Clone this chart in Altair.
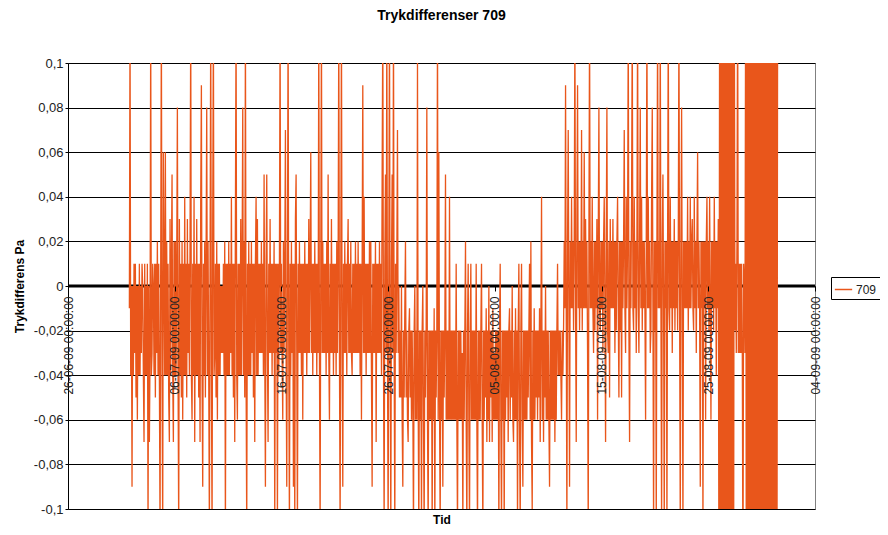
import altair as alt
import pandas as pd

TITLE = "Trykdifferenser 709"
Y_TITLE = "Trykdifferens Pa"
X_TITLE = "Tid"
SERIES_NAME = "709"

# x-axis tick dates (year, month, day) and y-axis tick values
X_TICK_DATES = [(2009, 6, 26), (2009, 7, 6), (2009, 7, 16), (2009, 7, 26),
                (2009, 8, 5), (2009, 8, 15), (2009, 8, 25), (2009, 9, 4)]
Y_TICKS = [-0.1, -0.08, -0.06, -0.04, -0.02, 0, 0.02, 0.04, 0.06, 0.08, 0.1]
ZERO = [0]

# pressure difference readings in hundredths of Pa, one every 90 minutes,
# starting 01-07-09 18:00 (values beyond +/-0.1 run off the plot)
JUL_01 = [-1, 12, -4, 0]
JUL_02 = [-9, 0, -4, 1, -3, 1, -5, 0, -6, 0, -4, 1, -4, 0, -3, 1]
JUL_03 = [0, -4, -7, 1, -4, 0, -4, 1, -11, 0, -7, -3, 12, -4, -3, 1]
JUL_04 = [0, -4, 1, -5, 1, -3, 2, -4, 1, -4, -11, 1, 12, -4, -11, 6]
JUL_05 = [1, -4, 6, -4, 2, -4, 1, -5, -7, 3, -4, 1, 5, -4, -7, 2]
JUL_06 = [-4, 2, -4, 1, 8, -4, -11, 3, -4, 1, -5, 2, -6, 1, -4, 4]
JUL_07 = [-4, 1, -5, 3, -3, 1, -4, 2, 12, -4, -6, 1, -4, 4, -7, 1]
JUL_08 = [-4, 3, -4, 1, -5, 1, -7, 4, 9, -4, -9, 1, -4, 2, -5, 1]
JUL_09 = [8, -4, 2, -4, -11, 1, 12, -4, -11, 3, 12, -4, -3, 1, -5, 2]
JUL_10 = [-6, 1, -4, 1, -4, 0, -3, 0, -3, 1, -4, 2, -11, 1, -4, 1]
JUL_11 = [-4, 2, -4, 1, -3, 4, -4, 1, -5, 1, -7, 3, 12, -4, -6, 1]
JUL_12 = [-4, 1, -4, 3, -4, 1, 8, -4, 2, -5, 12, -4, -11, 1, -4, 2]
JUL_13 = [-4, 1, -4, 2, -3, 1, -5, 1, -7, 1, 4, -4, 3, -4, 1, -3]
JUL_14 = [1, -3, 2, -3, 1, -4, 5, -3, -9, 1, 5, -3, -7, 1, -3, 3]
JUL_15 = [-3, 1, -4, 1, -3, 2, -11, 1, -3, 1, -11, 1, -4, 1, 12, -3]
JUL_16 = [1, -3, -6, 2, -3, 1, 7, -3, -9, 1, 12, -3, -11, 1, -4, 2]
JUL_17 = [-3, 1, -9, 1, -11, 3, 5, -3, -11, 1, -3, 2, -3, 1, -4, 1]
JUL_18 = [-6, 1, -3, 2, -3, 1, -4, 1, -3, 3, -3, 1, 6, -3, 1, -4]
JUL_19 = [1, -3, 2, -3, 1, -4, 1, -3, 12, -3, -11, 1, 12, -3, 2, -3]
JUL_20 = [1, -3, 1, -4, 2, -3, 5, -3, -6, 1, -3, 3, -3, 1, -4, 1]
JUL_21 = [-3, 1, -4, 2, -3, 1, 12, -3, -11, 1, 12, -3, -9, 1, -3, 2]
JUL_22 = [-3, 1, -4, 1, 3, -3, 1, -3, 2, -3, -4, 1, -3, 1, -3, 2]
JUL_23 = [-3, 1, -3, 2, -3, 1, -4, 1, -6, 1, 9, -3, 4, -3, 1, -4]
JUL_24 = [1, -3, 1, -3, 2, -3, 2, -4, -9, 1, -3, 1, -3, 2, -7, 1]
JUL_25 = [-3, 1, -3, 2, -3, 1, -4, 5, 12, -3, -11, 1, 5, -3, 12, -3]
JUL_26 = [-11, 1, 12, -3, -11, 1, 5, -3, 12, -3, -11, 1, -3, 1, 7, -3]
JUL_27 = [0, -5, -2, -5, 0, -6, -9, -2, -5, -1, 2, -5, -2, -6, -7, -2]
JUL_28 = [-1, -5, -2, -6, -2, -5, -11, -2, 0, -6, -2, -6, 10, -5, -11, -2]
JUL_29 = [-6, -2, -11, -2, 0, -6, -11, -2, -5, -2, 8, -6, -11, -2, -6, -2]
JUL_30 = [-6, -2, -11, -2, -6, -1, -11, -2, -5, -2, 12, -6, 6, -5, -11, -2]
JUL_31 = [-6, -2, -9, -2, -5, -2, 5, -6, -2, -6, -2, -6, 4, -6, -2, -6]
AUG_01 = [-2, -6, -2, -6, -2, -6, 1, -6, -11, -2, -6, -2, -6, -2, -6, -3]
AUG_02 = [-11, -2, -6, -2, 2, -6, -11, -2, 1, -6, -11, -2, 1, -6, -2, -6]
AUG_03 = [-2, -6, -2, -6, 1, -6, -11, -2, -6, -2, -6, -2, 1, -6, -11, -2]
AUG_04 = [-6, -2, -5, -1, -7, -2, -6, 0, -7, -2, -5, -2, -7, -1, -6, -3]
AUG_05 = [-6, -2, -6, -2, -6, -2, -11, -2, 1, -6, -11, -2, -6, -2, -11, -2]
AUG_06 = [-6, -2, -5, -2, -7, -2, -1, -6, -2, -5, 0, -6, -7, -2, -6, -1]
AUG_07 = [-6, -2, -11, -2, 1, -6, -11, -2, 1, -6, -9, -2, -6, -2, -6, -2]
AUG_08 = [-6, -2, -5, -2, 1, -6, 2, -7, -10, -2, -6, -1, -6, -2, -5, -2]
AUG_09 = [-6, -2, -5, -1, -7, -2, 4, -6, -2, -7, -2, -5, 0, -6, -2, -6]
AUG_10 = [-2, -6, -9, -2, -6, -2, -6, -2, -6, -2, -7, -2, -6, -2, 1, -4]
AUG_11 = [-2, -4, -2, -4, -6, -2, -4, -2, 2, -1, 9, -1, -11, 2, 7, -1]
AUG_12 = [-9, 2, -1, 4, -1, 2, -2, 2, 12, -1, -7, 3, 9, -1, 2, -2]
AUG_13 = [2, -1, 7, -2, 2, -1, 6, -1, 3, -1, 2, -3, -11, 2, 12, -1]
AUG_14 = [2, -1, 4, -1, -3, 2, -2, 2, -1, 3, -6, 2, 8, -1, -2, 2]
AUG_15 = [-1, 2, -3, 2, 4, -1, -7, 2, 8, -2, -3, 2, -5, 3, -1, 2]
AUG_16 = [-1, 3, -1, 2, -3, 2, -2, 2, 4, -1, -5, 2, -2, 2, -5, 2]
AUG_17 = [-1, 2, 7, -1, -3, 4, -1, 2, 12, -2, -7, 2, -1, 4, 12, -1]
AUG_18 = [-2, 4, -1, 2, -3, 2, 12, -1, -3, 2, 8, -1, 4, -2, 2, -1]
AUG_19 = [2, -1, -6, 2, 12, -1, 4, -1, 2, -3, -2, 4, 8, -1, -11, 2]
AUG_20 = [-2, 2, -11, 2, 12, -1, 2, -1, 12, -1, -11, 2, 5, -1, -11, 2]
AUG_21 = [-1, 2, -11, 2, 12, -1, -2, 4, -1, 2, -3, 2, -1, 3, -2, 2]
AUG_22 = [-1, 2, -2, 2, 12, -1, -11, 2, 8, -1, -11, 2, -1, 2, -1, 2]
AUG_23 = [-1, 4, -2, 2, -1, 4, -1, 2, 3, -1, -2, 4, -1, 2, -3, 2]
AUG_24 = [6, -1, 2, -1, -9, 2, -1, 2, -11, 2, -1, 2, -6, 2, 4, -1]
AUG_25 = [2, -2, 4, -1, -6, 2, -1, 2, -2, 4, -1, 2, -4, 2, -1, 3]
AUG_26 = [-14, 14, -14, 14, -14, 14, -14, 14, -14, 14, -14, 14, -14, 14, -14, 14]
AUG_27 = [-14, 14, -14, 14, -14, 14, -14, 14, -2, 1, -3, 2, 14, -3, 1, -3]
AUG_28 = [1, -3, 1, -3, -14, 1, 0, -3, 14, -14, 14, -14, 14, -14, 14, -14]
AUG_29 = [14, -14, 14, -14, 14, -14, 14, -14, 14, -14, 14, -14, 14, -14, 14, -14]
AUG_30 = [14, -14, 14, -14, 14, -14, 14, -14, 14, -14, 14, -14, 14, -14, 14, -14]
AUG_31 = [14, -14, 14, -14, 14, -14, 14, -14, 14]

DAYS = [JUL_01, JUL_02, JUL_03, JUL_04, JUL_05, JUL_06, JUL_07, JUL_08, JUL_09, JUL_10,
        JUL_11, JUL_12, JUL_13, JUL_14, JUL_15, JUL_16, JUL_17, JUL_18, JUL_19, JUL_20,
        JUL_21, JUL_22, JUL_23, JUL_24, JUL_25, JUL_26, JUL_27, JUL_28, JUL_29, JUL_30,
        JUL_31, AUG_01, AUG_02, AUG_03, AUG_04, AUG_05, AUG_06, AUG_07, AUG_08, AUG_09,
        AUG_10, AUG_11, AUG_12, AUG_13, AUG_14, AUG_15, AUG_16, AUG_17, AUG_18, AUG_19,
        AUG_20, AUG_21, AUG_22, AUG_23, AUG_24, AUG_25, AUG_26, AUG_27, AUG_28, AUG_29,
        AUG_30, AUG_31]

ORANGE = "#E9561B"
FONT = "Liberation Sans"

values = [v for day in DAYS for v in day]
dates = pd.date_range("2009-07-01 18:00", periods=len(values), freq="90min")
df = pd.DataFrame({
    "tid": dates.strftime("%Y-%m-%dT%H:%M:%S"),
    "v": [x / 100 for x in values],
    "serie": SERIES_NAME,
})

x_ticks = [alt.DateTime(year=y, month=m, date=d, hours=0) for (y, m, d) in X_TICK_DATES]

x_enc = alt.X(
    "tid:T",
    scale=alt.Scale(domain=[x_ticks[0], x_ticks[-1]]),
    axis=alt.Axis(
        values=x_ticks, format="%d-%m-%y %H:%M:%S", formatType="time",
        labelAngle=270, labelAlign="right", labelBaseline="middle",
        labelFont=FONT, labelFontSize=12, labelColor="#222222",
        labelPadding=5, labelFlush=False, labelOverlap=False,
        offset=-223, domain=False, ticks=True, tickColor="black", tickSize=5,
        grid=False, zindex=1,
        title=X_TITLE, titleFont=FONT, titleFontSize=12, titleFontWeight="bold",
        titleColor="black", titleY=233, titleBaseline="middle",
    ),
)

y_enc = alt.Y(
    "v:Q",
    scale=alt.Scale(domain=[-0.1, 0.1], nice=False, zero=False),
    axis=alt.Axis(
        values=Y_TICKS,
        labelExpr="replace(toString(datum.value), '.', ',')",
        labelFont=FONT, labelFontSize=13, labelColor="#222222", labelPadding=2,
        tickSize=3, tickColor="black", domainColor="black", domainWidth=1,
        grid=True, gridColor="black", gridWidth=1,
        title=Y_TITLE, titleFont=FONT, titleFontSize=12, titleFontWeight="bold",
        titleColor="black", titleX=-49, titleBaseline="middle",
    ),
)

line = alt.Chart(df).mark_line(strokeWidth=1.3, clip=True).encode(
    x=x_enc,
    y=y_enc,
    color=alt.Color(
        "serie:N",
        scale=alt.Scale(range=[ORANGE]),
        legend=alt.Legend(
            title=None, orient="none", legendX=763, legendY=214,
            symbolType="stroke", symbolSize=300, symbolStrokeWidth=1.5,
            labelFont=FONT, labelFontSize=12, labelColor="#222222", labelOffset=3,
            strokeColor="black", fillColor="white", padding=3, cornerRadius=0,
        ),
    ),
)

zero_rule = alt.Chart(pd.DataFrame({"z": ZERO})).mark_rule(
    color="black", strokeWidth=3
).encode(y=alt.Y("z:Q"))

chart = alt.layer(zero_rule, line).properties(
    width=747,
    height=446,
    padding={"left": 60, "top": 55, "right": 65, "bottom": 18},
    autosize=alt.AutoSizeParams(type="none"),
    title=alt.TitleParams(
        text=TITLE, font=FONT, fontSize=14, fontWeight="bold", color="black",
        anchor="middle", frame="group", offset=34,
    ),
).configure_view(stroke="#808080", strokeWidth=1)

chart.save("out.html", embed_options={"renderer": "svg", "actions": False})
